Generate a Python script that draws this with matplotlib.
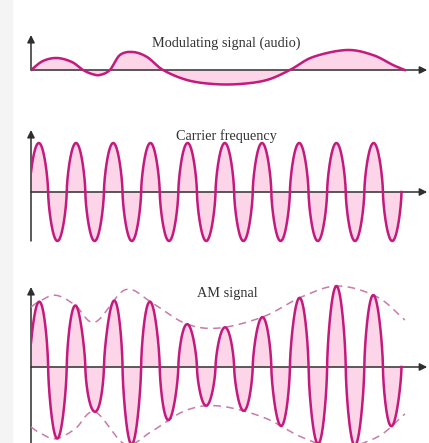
import numpy as np
import matplotlib.pyplot as plt
from matplotlib.patches import Rectangle

# Tempo medido em ciclos da portadora (0 = eixo vertical)

# sinal modulante (audio): instantes e amplitude relativa
audio_t = [0, 0.32, 0.70, 1.10, 1.40, 1.64, 1.85, 2.12, 2.39, 2.74, 3.12, 3.55,
           4.19, 4.89, 5.62, 6.34, 6.96, 7.58, 8.49, 9.19, 9.73, 10.05]
audio_v = [0, 0.45, 0.60, 0.40, 0, -0.20, -0.25, 0, 0.75, 0.90, 0.65, 0,
           -0.50, -0.70, -0.70, -0.50, 0, 0.65, 1.00, 0.75, 0.25, 0]

# envoltoria do sinal AM (tracejada)
env_t = [0, 0.19, 0.65, 1.18, 1.72, 2.53, 3.25, 4.14, 5.03, 6.24, 7.28, 8.25, 9.30, 10.05]
env_v = [1.11, 1.20, 1.33, 1.15, 0.83, 1.43, 1.19, 0.81, 0.72, 0.93, 1.30, 1.50, 1.30, 0.87]

n_cycles = 9.96     # a portadora termina num cruzamento por zero
phase = 0.04        # fase inicial (ciclos)

titles = ['Modulating signal (audio)', 'Carrier frequency', 'AM signal']

LINE = '#c4197d'
FILL = '#fcd5e8'
DASH = '#c97aa8'
AXIS = '#2e2e2e'
W, H = 429, 443
PERIOD = 37.2  # px por ciclo


def catmull(tt, vv, n=30):
    # curva suave que passa pelos pontos lidos
    p = np.column_stack([tt, vv])
    p = np.vstack([2 * p[0] - p[1], p, 2 * p[-1] - p[-2]])
    out = []
    s = np.linspace(0, 1, n, endpoint=False)[:, None]
    for i in range(1, len(p) - 2):
        p0, p1, p2, p3 = p[i - 1], p[i], p[i + 1], p[i + 2]
        seg = 0.5 * ((2 * p1) + (-p0 + p2) * s + (2 * p0 - 5 * p1 + 4 * p2 - p3) * s ** 2
                     + (-p0 + 3 * p1 - 3 * p2 + p3) * s ** 3)
        out.append(seg)
    out.append(p[-2][None, :])
    out = np.vstack(out)
    return out[:, 0], out[:, 1]


def carrier(t):
    s = np.sin(2 * np.pi * (t + phase))
    return np.sign(s) * np.abs(s) ** 0.65


def panel(y_top, y_bot, base, unit):
    ax = fig.add_axes([31 / W, (H - y_bot) / H, (W - 31) / W, (y_bot - y_top) / H])
    ax.set_xlim(0, (W - 31) / PERIOD)
    ax.set_ylim(-(y_bot - base) / unit, (base - y_top) / unit)
    ax.axis('off')
    return ax


def axes_arrows(ax, ylow, ytip):
    kw = dict(arrowstyle='-|>', color=AXIS, lw=1.1, mutation_scale=11, shrinkA=0, shrinkB=0)
    ax.annotate('', xy=(10.65, 0), xytext=(0, 0), arrowprops=kw, zorder=2)
    ax.annotate('', xy=(0, ytip), xytext=(0, ylow), arrowprops=kw, zorder=2)


fig = plt.figure(figsize=(W / 100, H / 100), dpi=100)
fig.patches.append(Rectangle((0, 0), 12 / W, 1, transform=fig.transFigure,
                             color='#f4f4f4', zorder=-5))

# painel 1: sinal modulante
ax1 = panel(25, 100, 70, 20)
at, av = catmull(audio_t, audio_v)
ax1.fill_between(at, 0, av, color=FILL, lw=0, zorder=1)
axes_arrows(ax1, 0, 1.75)
ax1.plot(at, av, color=LINE, lw=1.8, zorder=3)

# painel 2: portadora
ax2 = panel(125, 250, 192, 49)
t = np.linspace(0, n_cycles, 3000)
c = carrier(t)
ax2.fill_between(t, 0, c, color=FILL, lw=0, zorder=1)
axes_arrows(ax2, -1.0, 62 / 49)
ax2.plot(t, c, color=LINE, lw=1.8, zorder=3)

# painel 3: sinal AM
ax3 = panel(278, 443, 367, 54)
et, ev = catmull(env_t, env_v)
am = np.interp(t, et, ev) * c
ax3.fill_between(t, 0, am, color=FILL, lw=0, zorder=1)
axes_arrows(ax3, -76 / 54, 80 / 54)
ax3.plot(t, am, color=LINE, lw=1.8, zorder=3)
ax3.plot(et, ev, color=DASH, lw=1.1, ls=(0, (5, 3.5)), zorder=2)
ax3.plot(et, -ev, color=DASH, lw=1.1, ls=(0, (5, 3.5)), zorder=2)

for txt, (x, y) in zip(titles, [(226, 43), (226, 136), (227, 293)]):
    fig.text(x / W, 1 - y / H, txt, ha='center', va='center',
             family='Liberation Serif', fontsize=10.3, color='#333333')

fig.savefig('out.png', dpi=100)
